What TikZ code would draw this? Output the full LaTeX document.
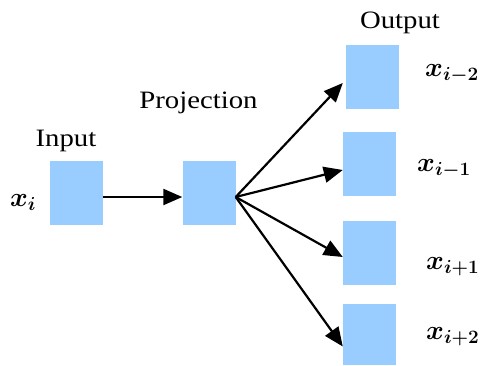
\RequirePackage{fix-cm}
\documentclass[tikz,border=0pt]{standalone}
\usepackage{amsmath,amssymb}
\usepackage{bm}
\usepackage{graphicx}
\usepackage{fontspec}
\setmainfont{Liberation Serif}
\usetikzlibrary{arrows.meta,positioning,calc}
\usepackage{xcolor}
\definecolor{boxblue}{RGB}{153,204,255}

\newcommand{\wide}[1]{\scalebox{1.2}[1]{#1}}

\begin{document}
\begin{tikzpicture}[x=1pt,y=1pt,
    blk/.style={fill=boxblue,draw=none,inner sep=0pt,minimum width=53pt,minimum height=64pt},
    arr/.style={-{Triangle[length=19pt,width=16pt]},line width=2.2pt},
    ttl/.style={font=\fontsize{25}{28}\selectfont,inner sep=0pt,anchor=base},
    var/.style={font=\fontsize{27}{30}\selectfont,inner sep=0pt,anchor=base west}]
        \useasboundingbox (0,0) rectangle (481,-365);
        % blocks
        \node[blk] (inp) at (76.5,-193) {};
        \node[blk] (proj) at (209,-193) {};
        \node[blk] (out1) at (372.5,-77) {};
        \node[blk] (out2) at (369.5,-164) {};
        \node[blk] (out3) at (369.5,-252.5) {};
        \node[blk,minimum height=61pt] (out4) at (369.5,-334.5) {};
        % titles
        \node[ttl] (tin) at (66,-146) {\scalebox{1.15}[1]{Input}};
        \node[ttl] (tproj) at (198.5,-108) {\scalebox{1.15}[1]{Projection}};
        \node[ttl] (tout) at (400,-28.5) {\scalebox{1.15}[1]{Output}};
        % words
        \node[var] (xi) at (10,-206.5) {$\bm{x_i}$};
        \node[var] (xm2) at (425,-76) {$\bm{x_{i-2}}$};
        \node[var] (xm1) at (417,-171) {$\bm{x_{i-1}}$};
        \node[var] (xp1) at (426,-269) {$\bm{x_{i+1}}$};
        \node[var] (xp2) at (426,-339) {$\bm{x_{i+2}}$};
        % arrows
        \coordinate (hub) at ([yshift=-4pt]proj.east);
        \draw[arr] ([yshift=-4pt]inp.east) -- ([yshift=-4pt]proj.west);
        \draw[arr] (hub) -- ([xshift=-3pt,yshift=-6pt]out1.west);
        \draw[arr] (hub) -- ([yshift=-6pt]out2.west);
        \draw[arr] (hub) -- ([yshift=-4.5pt]out3.west);
        \draw[arr] (hub) -- ([yshift=-12pt]out4.west);
\end{tikzpicture}
\end{document}
